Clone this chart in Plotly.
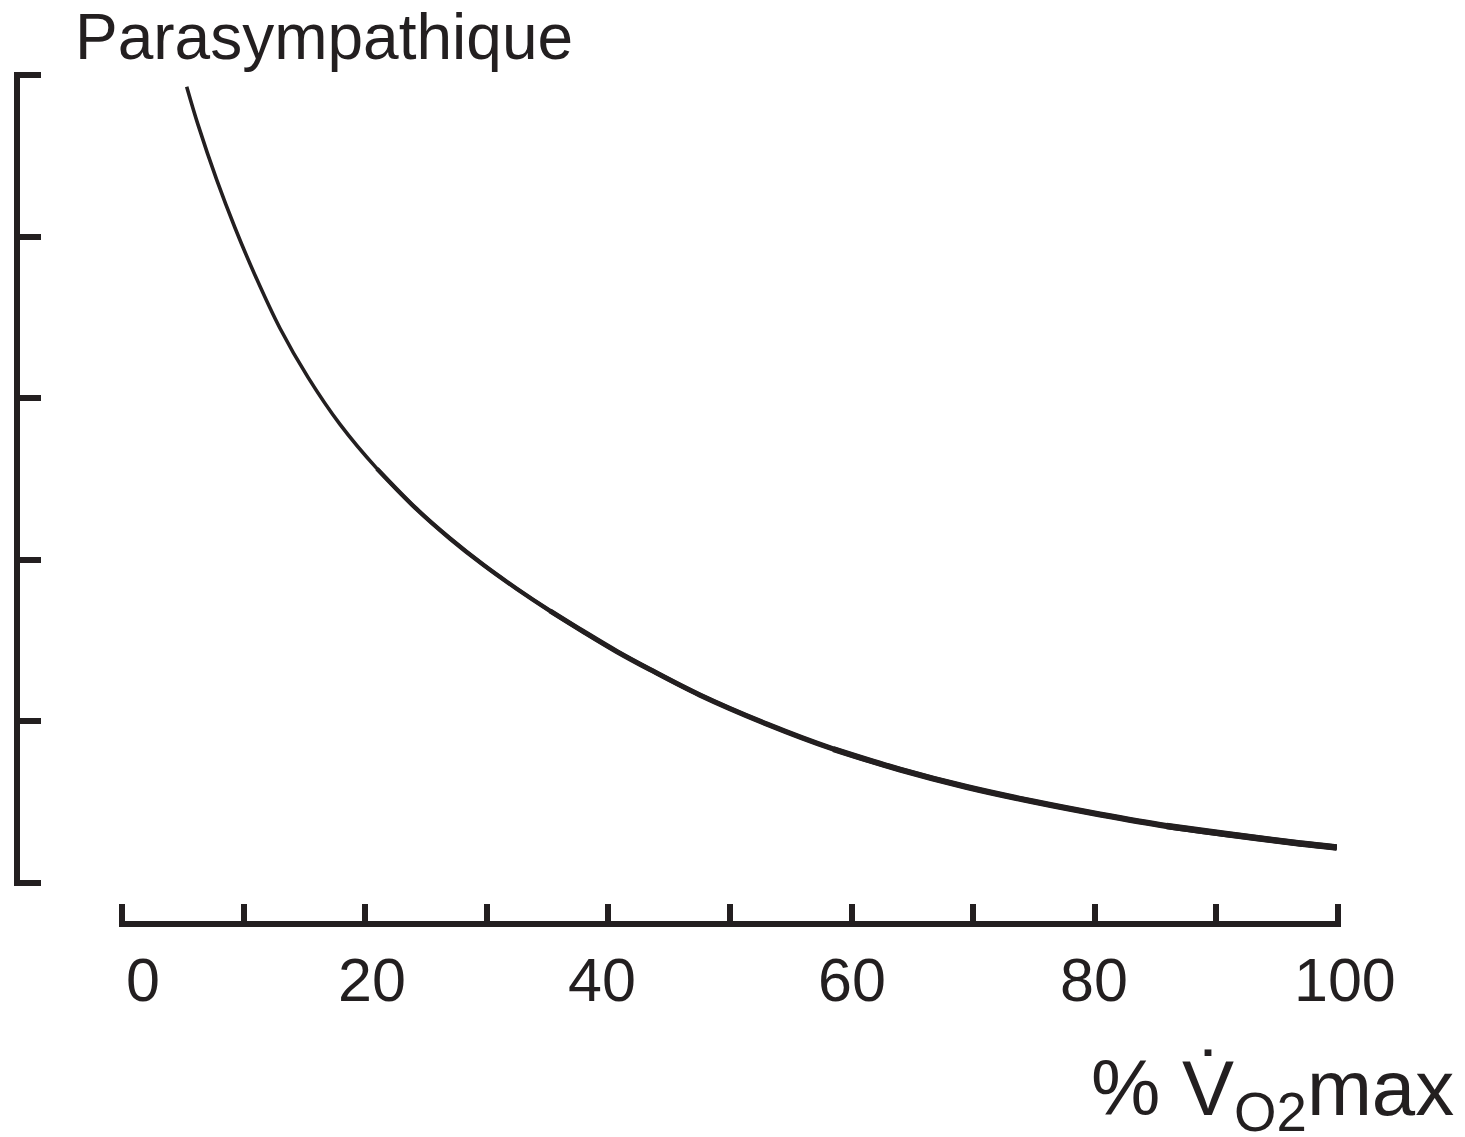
import plotly.graph_objects as go

# ---- data ----
vo2_pct = [5.32, 6.25, 7.79, 9.29, 10.94, 12.99, 15.30, 17.93, 20.97, 24.24,
           26.97, 29.71, 32.46, 35.20, 37.94, 40.68, 43.42, 47.53, 53.02, 58.50,
           63.98, 69.47, 74.94, 80.43, 85.91, 91.39, 96.88, 99.89]
para_activity = [4.928, 4.693, 4.351, 4.055, 3.761, 3.433, 3.129, 2.838, 2.564, 2.313,
                 2.132, 1.969, 1.821, 1.684, 1.556, 1.433, 1.321, 1.163, 0.984, 0.829,
                 0.702, 0.594, 0.504, 0.424, 0.353, 0.297, 0.244, 0.220]
x_tick_vals = [0, 10, 20, 30, 40, 50, 60, 70, 80, 90, 100]
x_tick_labels = ["0", "20", "40", "60", "80", "100"]
x_label_vals = [0, 20, 40, 60, 80, 100]
y_tick_vals = [0, 1, 2, 3, 4, 5]
title_text = "Parasympathique"
x_title_text = "% V\u0307<sub>O2</sub>max"

# ---- styling ----
INK = "#231f20"
FONT = "Liberation Sans, Arial, Helvetica, sans-serif"
W, H = 1465, 1137
label_xshift = [21, 7, -6, 0, -1, 7]
X0, X1 = 122.0, 1338.0      # pixel positions of 0 % and 100 %
Y0, Y5 = 883.0, 75.0        # pixel positions of y=0 and y=5
xpad, ypad = 0.25, 0.02     # range padding so the end ticks are drawn
pxx = (X1 - X0) / 100.0
pxy = (Y0 - Y5) / 5.0

fig = go.Figure()

# curve drawn in layers of increasing width (thin at top, thick at bottom)
layers = [(0, 3.6), (8, 4.4), (13, 5.2), (19, 6.0), (24, 6.5)]
for start, w in layers:
    fig.add_trace(go.Scatter(
        x=vo2_pct[start:], y=para_activity[start:], mode="lines",
        line=dict(color=INK, width=w, shape="spline", smoothing=1.0),
        hoverinfo="skip", showlegend=False))

fig.update_layout(
    width=W, height=H,
    margin=dict(l=0, r=0, t=0, b=0),
    paper_bgcolor="white", plot_bgcolor="white",
    showlegend=False,
    xaxis=dict(
        domain=[(X0 - xpad * pxx) / W, (X1 + xpad * pxx) / W],
        range=[-xpad, 100 + xpad],
        anchor="free", position=(H - 924) / H,
        showline=True, linecolor=INK, linewidth=6,
        ticks="inside", tickvals=x_tick_vals, ticklen=17, tickwidth=6, tickcolor=INK,
        showticklabels=False, showgrid=False, zeroline=False, fixedrange=True,
    ),
    yaxis=dict(
        domain=[(H - (Y0 + ypad * pxy)) / H, (H - (Y5 - ypad * pxy)) / H],
        range=[-ypad, 5 + ypad],
        anchor="free", position=17 / W,
        showline=True, linecolor=INK, linewidth=6,
        ticks="inside", tickvals=y_tick_vals, ticklen=21, tickwidth=6, tickcolor=INK,
        showticklabels=False, showgrid=False, zeroline=False, fixedrange=True,
    ),
)

annotations = []
for v, t, dx in zip(x_label_vals, x_tick_labels, label_xshift):
    annotations.append(dict(
        x=v, xref="x", y=(H - 980) / H, yref="paper",
        text=t, showarrow=False, xanchor="center", yanchor="middle",
        xshift=dx, font=dict(family=FONT, size=61, color=INK)))

annotations.append(dict(
    x=73 / W, xref="paper", y=(H - 37) / H, yref="paper",
    text=title_text, showarrow=False, xanchor="left", yanchor="middle",
    font=dict(family=FONT, size=64, color=INK)))

annotations.append(dict(
    x=1456 / W, xref="paper", y=(H - 1093) / H, yref="paper",
    text=x_title_text, showarrow=False, xanchor="right", yanchor="middle",
    font=dict(family=FONT, size=78, color=INK)))

fig.update_layout(annotations=annotations)
fig.write_html("out.html")
